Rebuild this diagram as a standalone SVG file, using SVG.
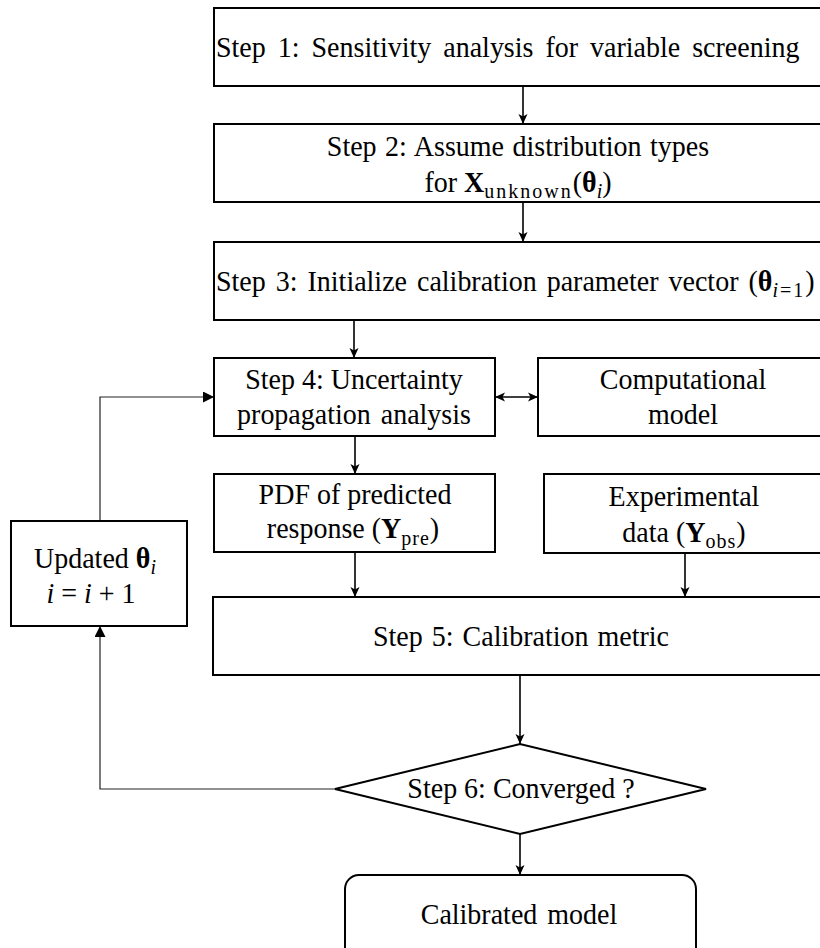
<svg xmlns="http://www.w3.org/2000/svg" width="820" height="948" viewBox="0 0 820 948">
  <defs>
    <style>
      .box { fill: #ffffff; stroke: #000000; stroke-width: 2; }
      .t { font-family: "Liberation Serif", "Times New Roman", serif; font-size: 28px; fill: #000000;
           transform-box: fill-box; transform-origin: center; transform: scaleY(1.07); }
      .c { text-anchor: middle; }
      .b { font-weight: bold; }
      .it { font-style: italic; }
      .sub { font-size: 20px; }
      .link { fill: none; stroke: #000000; stroke-width: 1.6; }
      .loop { fill: none; stroke: #222222; stroke-width: 1.2; }
    </style>
    <marker id="ah" viewBox="0 0 10 10" refX="10" refY="5" markerWidth="10" markerHeight="11" markerUnits="userSpaceOnUse" orient="auto-start-reverse">
      <path d="M0,0.5 L10,5 L0,9.5 L2.5,5 Z" fill="#000000"/>
    </marker>
    <marker id="ahf" viewBox="0 0 10 10" refX="10" refY="5" markerWidth="11" markerHeight="11" markerUnits="userSpaceOnUse" orient="auto">
      <path d="M0,0 L10,5 L0,10 Z" fill="#000000"/>
    </marker>
  </defs>

  <rect width="820" height="948" fill="#ffffff"/>

  <!-- connectors -->
  <g id="connectors">
    <line class="link" x1="523" y1="86" x2="523" y2="124" marker-end="url(#ah)"/>
    <line class="link" x1="523" y1="202" x2="523" y2="242" marker-end="url(#ah)"/>
    <line class="link" x1="354" y1="320" x2="354" y2="358" marker-end="url(#ah)"/>
    <line class="link" x1="495" y1="397" x2="538" y2="397" marker-start="url(#ah)" marker-end="url(#ah)"/>
    <line class="link" x1="355" y1="436" x2="355" y2="474" marker-end="url(#ah)"/>
    <line class="link" x1="355" y1="552" x2="355" y2="597" marker-end="url(#ah)"/>
    <line class="link" x1="685" y1="553" x2="685" y2="597" marker-end="url(#ah)"/>
    <line class="link" x1="520" y1="675" x2="520" y2="744" marker-end="url(#ah)"/>
    <line class="link" x1="520" y1="834" x2="520" y2="875" marker-end="url(#ah)"/>
    <!-- feedback loop: not converged -> update -> back to step 4 -->
    <polyline class="loop" points="335,789 100,789 100,626" marker-end="url(#ahf)"/>
    <polyline class="loop" points="100,521 100,397 214,397" marker-end="url(#ahf)"/>
  </g>

  <g id="step1">
    <rect class="box" x="214" y="8" width="610" height="78"/>
    <text class="t" x="216" y="56" word-spacing="5">Step 1: Sensitivity analysis for variable screening</text>
  </g>

  <g id="step2">
    <rect class="box" x="214" y="124" width="610" height="78"/>
    <text class="t c" x="518" y="155" word-spacing="1.5">Step 2: Assume distribution types</text>
    <text class="t c" x="518" y="191">for <tspan class="b">X</tspan><tspan class="sub" dy="6" font-size="21" letter-spacing="2">unknown</tspan><tspan dy="-6">(</tspan><tspan class="b">θ</tspan><tspan class="sub it" dy="6">i</tspan><tspan dy="-6">)</tspan></text>
  </g>

  <g id="step3">
    <rect class="box" x="214" y="242" width="610" height="78"/>
    <text class="t" x="216" y="290" word-spacing="3">Step 3: Initialize calibration parameter vector (<tspan class="b">θ</tspan><tspan class="sub" dy="6" letter-spacing="2"><tspan class="it">i</tspan>=1</tspan><tspan dy="-6">)</tspan></text>
  </g>

  <g id="step4">
    <rect class="box" x="214" y="358" width="281" height="78"/>
    <text class="t c" x="354" y="388">Step 4: Uncertainty</text>
    <text class="t c" x="354" y="423" word-spacing="3">propagation analysis</text>
  </g>

  <g id="model">
    <rect class="box" x="538" y="358" width="286" height="78"/>
    <text class="t c" x="683" y="388">Computational</text>
    <text class="t c" x="683" y="423">model</text>
  </g>

  <g id="pdf">
    <rect class="box" x="214" y="474" width="281" height="78"/>
    <text class="t c" x="355" y="503">PDF of predicted</text>
    <text class="t c" x="353" y="538">response (<tspan class="b">Y</tspan><tspan class="sub" dy="6" font-size="21" letter-spacing="1">pre</tspan><tspan dy="-6">)</tspan></text>
  </g>

  <g id="experiment">
    <rect class="box" x="544" y="474" width="280" height="79"/>
    <text class="t c" x="684" y="505">Experimental</text>
    <text class="t c" x="684" y="541">data (<tspan class="b">Y</tspan><tspan class="sub" dy="6" font-size="21" letter-spacing="1">obs</tspan><tspan dy="-6">)</tspan></text>
  </g>

  <g id="step5">
    <rect class="box" x="213" y="597" width="611" height="78"/>
    <text class="t c" x="521" y="645" word-spacing="2">Step 5: Calibration metric</text>
  </g>

  <g id="update">
    <rect class="box" x="11" y="521" width="176" height="105"/>
    <text class="t c" x="95" y="567">Updated <tspan class="b">θ</tspan><tspan class="sub it" dy="6">i</tspan></text>
    <text class="t c" x="91" y="602"><tspan class="it">i</tspan> = <tspan class="it">i</tspan> + 1</text>
  </g>

  <g id="step6">
    <polygon class="box" points="335,789 520,744 706,789 520,834"/>
    <text class="t c" x="521" y="797">Step 6: Converged ?</text>
  </g>

  <g id="calibrated">
    <rect class="box" x="345" y="875" width="351" height="90" rx="14" ry="14"/>
    <text class="t c" x="519" y="923" word-spacing="3">Calibrated model</text>
  </g>
</svg>
